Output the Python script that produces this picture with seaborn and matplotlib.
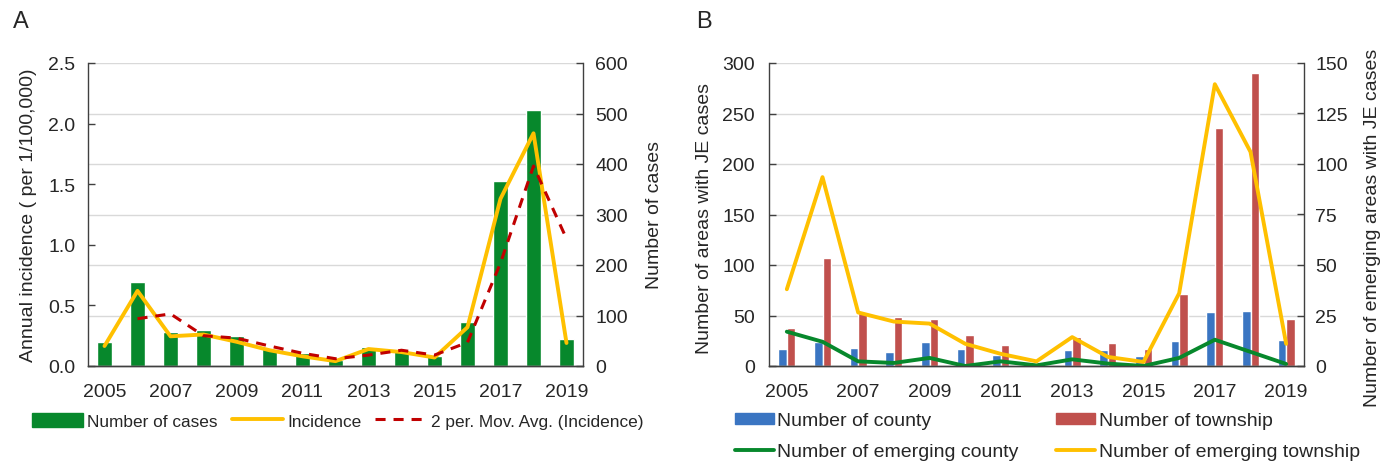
import numpy as np
import pandas as pd
import matplotlib
matplotlib.use("Agg")
import matplotlib.pyplot as plt
from matplotlib.patches import Patch
from matplotlib.lines import Line2D
import seaborn as sns

# ---------------- data ----------------
years = [str(y) for y in range(2005, 2020)]
cases = [47, 166, 67, 72, 59, 34, 26, 11, 38, 32, 20, 87, 366, 507, 54]
incidence = [0.165, 0.62, 0.245, 0.26, 0.20, 0.13, 0.08, 0.04, 0.14, 0.115, 0.07, 0.32, 1.38, 1.92, 0.19]
mov_avg_years = years[1:]
mov_avg = [0.39, 0.43, 0.25, 0.23, 0.165, 0.105, 0.06, 0.09, 0.13, 0.09, 0.195, 0.85, 1.65, 1.05]

county = [16.5, 24, 18, 14, 24, 16.5, 10.5, 3, 15.5, 15.5, 10, 25, 53.5, 54.5, 25.5]
township = [37.5, 107, 52, 49, 47, 31, 21, 4, 29, 23, 17, 71.5, 236, 290, 47]
emerging_county = [17, 12, 2.3, 1.5, 4, 0, 2.3, 0.3, 3.3, 1.2, 0, 4, 13, 7, 1]
emerging_township = [38, 93.5, 26.5, 22, 21, 11, 6, 2.3, 14.3, 4.5, 2, 36, 139.5, 106, 11]

# ---------------- style ----------------
sns.set_style("white")
plt.rcParams["font.family"] = ["Liberation Sans", "DejaVu Sans"]
plt.rcParams["font.size"] = 14

GREEN = "#07882C"
YELLOW = "#FFC000"
DARKRED = "#C00000"
BLUE = "#3A75C2"
RED = "#C0504D"
GRID = "#D9D9D9"
SPINE = "#404040"
FS = 14

W, H = 1389, 464
fig = plt.figure(figsize=(W / 100, H / 100), dpi=100)

def rect(l, r, t, b):
    return [l / W, 1 - b / H, (r - l) / W, (b - t) / H]

pos = np.arange(len(years))

def style_axes(ax_main, ax_twin, lpad, rpad):
    for a in (ax_main, ax_twin):
        a.spines["top"].set_visible(False)
        for s in ("left", "right", "bottom"):
            a.spines[s].set_color(SPINE)
            a.spines[s].set_linewidth(1.0)
        a.tick_params(axis="x", length=0, pad=12, labelsize=FS)
    ax_main.tick_params(axis="y", direction="in", length=5, width=1, color=SPINE, pad=lpad, labelsize=FS)
    ax_twin.tick_params(axis="y", direction="in", length=5, width=1, color=SPINE, pad=rpad, labelsize=FS)

# ---------------- Panel A ----------------
axA = fig.add_axes(rect(88, 583, 64, 367))
sns.barplot(x=years, y=cases, ax=axA, color=GREEN, saturation=1, width=0.45)
axA2 = axA.twinx()

axA.set_ylim(0, 600)
axA.set_yticks(range(0, 601, 100))
axA.yaxis.tick_right()
axA.yaxis.set_label_position("right")
axA.set_ylabel("Number of cases", fontsize=FS, labelpad=13)
axA.set_axisbelow(True)
axA.yaxis.grid(True, color=GRID, linewidth=1)
axA.xaxis.grid(False)

sns.lineplot(x=pos, y=incidence, ax=axA2, color=YELLOW, linewidth=2.8)
sns.lineplot(x=pos[1:], y=mov_avg, ax=axA2, color=DARKRED, linewidth=2.2,
             linestyle=(0, (3.3, 2.6)))
axA2.yaxis.tick_left()
axA2.yaxis.set_label_position("left")
axA2.set_ylim(0, 2.5)
ticksA = np.arange(0, 2.51, 0.5)
axA2.set_yticks(ticksA)
axA2.set_yticklabels([f"{v:.1f}" for v in ticksA])
axA2.set_ylabel("Annual incidence ( per 1/100,000)", fontsize=FS, labelpad=8)
axA2.grid(False)
axA.set_xlim(-0.5, len(years) - 0.5)
axA.set_xticks(pos[::2])
axA.set_xticklabels(years[::2])
axA.set_xlabel("")
style_axes(axA, axA2, 9, 9)
axA.spines["left"].set_visible(False)
axA2.spines["right"].set_visible(False)

axA.legend(
    handles=[Patch(facecolor=GREEN, edgecolor=GREEN),
             Line2D([], [], color=YELLOW, linewidth=2.8),
             Line2D([], [], color=DARKRED, linewidth=2.2, linestyle=(0, (3.3, 2.6)))],
    labels=["Number of cases", "Incidence", "2 per. Mov. Avg. (Incidence)"],
    loc="center", bbox_to_anchor=(0.504, -0.1815), ncol=3, frameon=False,
    fontsize=12.4, handlelength=3.0, handleheight=0.85, handletextpad=0.23,
    columnspacing=0.8, borderaxespad=0, borderpad=0)

fig.text(13 / W, 1 - 22 / H, "A", fontsize=17, va="center", ha="left")

# ---------------- Panel B ----------------
axB = fig.add_axes(rect(769, 1304, 64, 367))
dfB = pd.DataFrame({
    "year": years * 2,
    "value": county + township,
    "series": ["Number of county"] * len(years) + ["Number of township"] * len(years),
})
sns.barplot(data=dfB, x="year", y="value", hue="series", palette=[BLUE, RED],
            saturation=1, width=0.47, ax=axB, legend=False)
axB2 = axB.twinx()
axB.set_ylim(0, 300)
axB.set_yticks(range(0, 301, 50))
axB.set_ylabel("Number of areas with JE cases", fontsize=FS, labelpad=7)
axB.yaxis.label.set_y(0.49)
axB.set_axisbelow(True)
axB.yaxis.grid(True, color=GRID, linewidth=1)
axB.xaxis.grid(False)

sns.lineplot(x=pos, y=emerging_county, ax=axB2, color=GREEN, linewidth=2.8)
sns.lineplot(x=pos, y=emerging_township, ax=axB2, color=YELLOW, linewidth=2.8)
axB2.set_ylim(0, 150)
axB2.set_yticks(range(0, 151, 25))
axB2.set_ylabel("Number of emerging areas with JE cases", fontsize=FS, labelpad=12)
axB2.yaxis.label.set_y(0.46)
axB2.grid(False)
axB.set_xlim(-0.5, len(years) - 0.5)
axB.set_xticks(pos[::2])
axB.set_xticklabels(years[::2])
axB.set_xlabel("")
style_axes(axB, axB2, 10, 8)
axB.spines["right"].set_visible(False)
axB2.spines["left"].set_visible(False)

axB.legend(
    handles=[Patch(facecolor=BLUE, edgecolor=BLUE),
             Line2D([], [], color=GREEN, linewidth=2.8),
             Patch(facecolor=RED, edgecolor=RED),
             Line2D([], [], color=YELLOW, linewidth=2.8)],
    labels=["Number of county", "Number of emerging county",
            "Number of township", "Number of emerging township"],
    loc="center", bbox_to_anchor=(0.52, -0.231), ncol=2, frameon=False,
    fontsize=FS, handlelength=2.0, handleheight=0.5, handletextpad=0.2,
    columnspacing=1.9, labelspacing=0.7, borderaxespad=0, borderpad=0)

fig.text(696 / W, 1 - 22 / H, "B", fontsize=17, va="center", ha="left")

fig.savefig("out.png", dpi=100)
